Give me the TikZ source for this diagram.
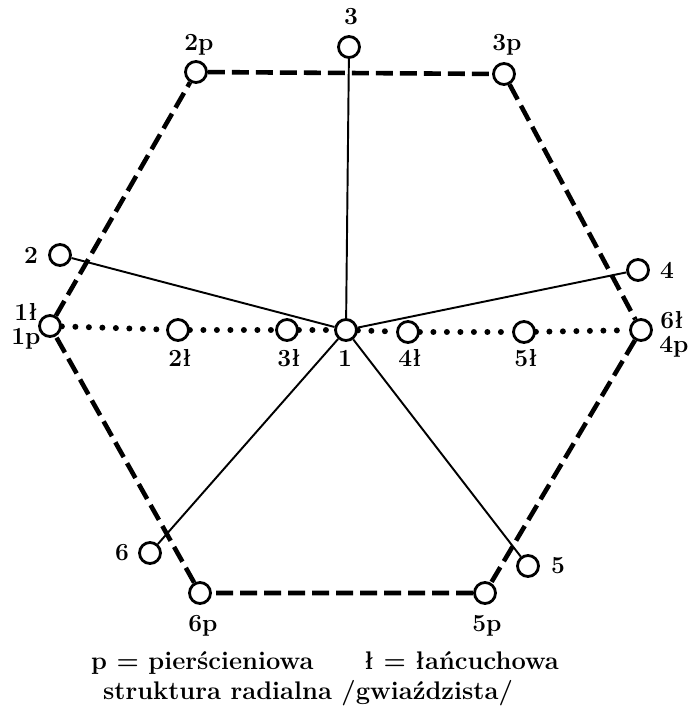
\documentclass[tikz,border=0pt]{standalone}
\usepackage{tikz}
\usetikzlibrary{positioning}

\begin{document}
\begin{tikzpicture}[
  x=0.02cm, y=-0.02cm,
  knot/.style={draw, circle, line width=1.6pt, minimum size=0.42cm, inner sep=0pt, fill=white},
  ringedge/.style={line width=2.6pt, dash pattern=on 0.34cm off 0.14cm},
  chainedge/.style={line width=3.4pt, line cap=round, dash pattern=on 0pt off 0.27cm},
  radedge/.style={line width=1.1pt},
  lbl/.style={font=\bfseries\fontsize{14}{16}\selectfont, inner sep=0pt},
  legend/.style={font=\bfseries\fontsize{14.5}{17}\selectfont, inner sep=0pt},
]
\useasboundingbox (0,0) rectangle (691,713);

% centre
\node[knot] (c1) at (346,330) {};

% outer ring (p)
\node[knot] (p1) at (50,326) {};
\node[knot] (p2) at (196,72) {};
\node[knot] (p3) at (504,74) {};
\node[knot] (p4) at (641,330) {};
\node[knot] (p5) at (485,593) {};
\node[knot] (p6) at (200,593) {};

% chain (l)
\node[knot] (l2) at (178,330) {};
\node[knot] (l3) at (287,330) {};
\node[knot] (l4) at (408,332) {};
\node[knot] (l5) at (524,332) {};

% radial ends
\node[knot] (r2) at (60,255) {};
\node[knot] (r3) at (349,47) {};
\node[knot] (r4) at (638,270) {};
\node[knot] (r5) at (528,566) {};
\node[knot] (r6) at (150,553) {};

% ring
\draw[ringedge] (p1) -- (p2) -- (p3) -- (p4) -- (p5) -- (p6) -- (p1);

% chain
\draw[chainedge] (p1) -- (l2);
\draw[chainedge] (l2) -- (l3);
\draw[chainedge] (l3) -- (c1);
\draw[chainedge] (c1) -- (l4);
\draw[chainedge] (l4) -- (l5);
\draw[chainedge] (l5) -- (p4);

% radial spokes
\foreach \r in {2,3,4,5,6}
  \draw[radedge] (c1) -- (r\r);

% labels
\node[lbl] (t1) at (345,358) {1};
\node[lbl] (t2) at (31,255) {2};
\node[lbl] (t3) at (351,17) {3};
\node[lbl] (t4) at (667,270) {4};
\node[lbl] (t5) at (558,566) {5};
\node[lbl] (t6) at (122,553) {6};
\node[lbl] (t1l) at (26,312) {1ł};
\node[lbl] (t1p) at (26,339) {1p};
\node[lbl] (t2p) at (199,45) {2p};
\node[lbl] (t3p) at (507,45) {3p};
\node[lbl] (t6l) at (672,320) {6ł};
\node[lbl] (t4p) at (674,347) {4p};
\node[lbl] (t5p) at (487,626) {5p};
\node[lbl] (t6p) at (203,626) {6p};
\node[lbl] (t2l) at (180,358) {2ł};
\node[lbl] (t3l) at (289,358) {3ł};
\node[lbl] (t4l) at (410,358) {4ł};
\node[lbl] (t5l) at (526,358) {5ł};

% legend
\node[legend] (leg1) at (325,663) {p = pierścieniowa\qquad ł = łańcuchowa};
\node[legend] (leg2) at (308,693) {struktura radialna /gwiaździsta/};
\end{tikzpicture}
\end{document}
